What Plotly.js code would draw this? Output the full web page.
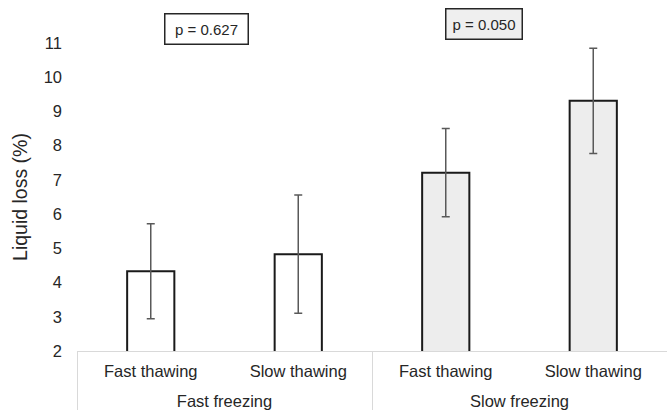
<!DOCTYPE html>
<html>
<head>
<meta charset="utf-8">
<script src="https://cdn.plot.ly/plotly-3.0.1.min.js"></script>
<style>html,body{margin:0;padding:0;background:#fff;}#chart{width:667px;height:410px;}</style>
</head>
<body>
<div id="chart"></div>
<script>
var groups = ["Fast freezing", "Fast freezing", "Slow freezing", "Slow freezing"];
var subs = ["Fast thawing", "Slow thawing", "Fast thawing", "Slow thawing"];
var values = [4.33, 4.83, 7.21, 9.31];
var errors = [1.39, 1.73, 1.29, 1.54];
var fills = ["#ffffff", "#ffffff", "#ededed", "#ededed"];
var pLabels = ["p = 0.627", "p = 0.050"];
var pFills = ["#ffffff", "#efefef"];
var yTicks = [2, 3, 4, 5, 6, 7, 8, 9, 10, 11];

// category positions on the axis
var pos = subs.map(function (_, i) { return i; });
var groupNames = [], groupCenters = [], bounds = [-0.5];
groups.forEach(function (g, i) {
  var k = groupNames.indexOf(g);
  if (k < 0) { groupNames.push(g); groupCenters.push([i]); bounds.push(i + 0.5); }
  else { groupCenters[k].push(i); bounds[bounds.length - 1] = i + 0.5; }
});
var groupMid = groupCenters.map(function (a) { return (a[0] + a[a.length - 1]) / 2; });

var xr = [-0.5, pos.length - 0.5];
var txtColor = "#262626";

var trace = {
  type: "bar",
  x: pos,
  y: values,
  marker: { color: fills, line: { color: "#1a1a1a", width: 2 } },
  error_y: { type: "data", array: errors, visible: true, color: "#595959", thickness: 1.5, width: 4 },
  hoverinfo: "none"
};
var t2 = { type: "scatter", x: [], y: [], xaxis: "x2", showlegend: false, hoverinfo: "none" };
var t3 = { type: "scatter", x: [], y: [], xaxis: "x3", showlegend: false, hoverinfo: "none" };

var layout = {
  width: 667, height: 410,
  margin: { l: 77, r: 0, t: 42.5, b: 59 },
  paper_bgcolor: "#fff", plot_bgcolor: "#fff",
  showlegend: false,
  bargap: 0.68,
  font: { family: "Liberation Sans, Arial, sans-serif", color: txtColor, size: 16 },
  xaxis: {
    range: xr, tickvals: pos, ticktext: subs,
    showline: true, linecolor: "#d9d9d9", linewidth: 1,
    ticks: "", showgrid: false, zeroline: false,
    ticklabelstandoff: 5,
    tickfont: { size: 16.5, color: txtColor }
  },
  xaxis2: {
    overlaying: "x", anchor: "y", side: "bottom",
    range: xr, tickvals: groupMid, ticktext: groupNames,
    showline: false, ticks: "", showgrid: false, zeroline: false,
    ticklabelstandoff: 38,
    tickfont: { size: 16.5, color: txtColor }
  },
  xaxis3: {
    overlaying: "x", anchor: "y", side: "bottom",
    range: xr, tickvals: bounds, showticklabels: false,
    showline: false, ticks: "outside", ticklen: 60, tickcolor: "#d9d9d9", tickwidth: 1,
    showgrid: false, zeroline: false
  },
  yaxis: {
    range: [2, 11], tickvals: yTicks, ticktext: yTicks.map(String),
    showgrid: false, zeroline: false, showline: false, ticks: "",
    ticklabelstandoff: 14,
    tickfont: { size: 16.5, color: txtColor },
    title: { text: "Liquid loss (%)", font: { size: 19.5, color: txtColor }, standoff: 10 }
  },
  annotations: [
    { xref: "paper", yref: "paper", x: 0.2187, y: 1.044, text: pLabels[0], showarrow: false,
      xanchor: "center", yanchor: "middle", bgcolor: pFills[0], bordercolor: txtColor, borderwidth: 1.5,
      width: 80, height: 27, borderpad: 1, font: { size: 15, color: txtColor } },
    { xref: "paper", yref: "paper", x: 0.690, y: 1.061, text: pLabels[1], showarrow: false,
      xanchor: "center", yanchor: "middle", bgcolor: pFills[1], bordercolor: txtColor, borderwidth: 1.5,
      width: 73, height: 27, borderpad: 1, font: { size: 15, color: txtColor } }
  ]
};

Plotly.newPlot("chart", [trace, t2, t3], layout, { displayModeBar: false, staticPlot: true });
</script>
</body>
</html>
